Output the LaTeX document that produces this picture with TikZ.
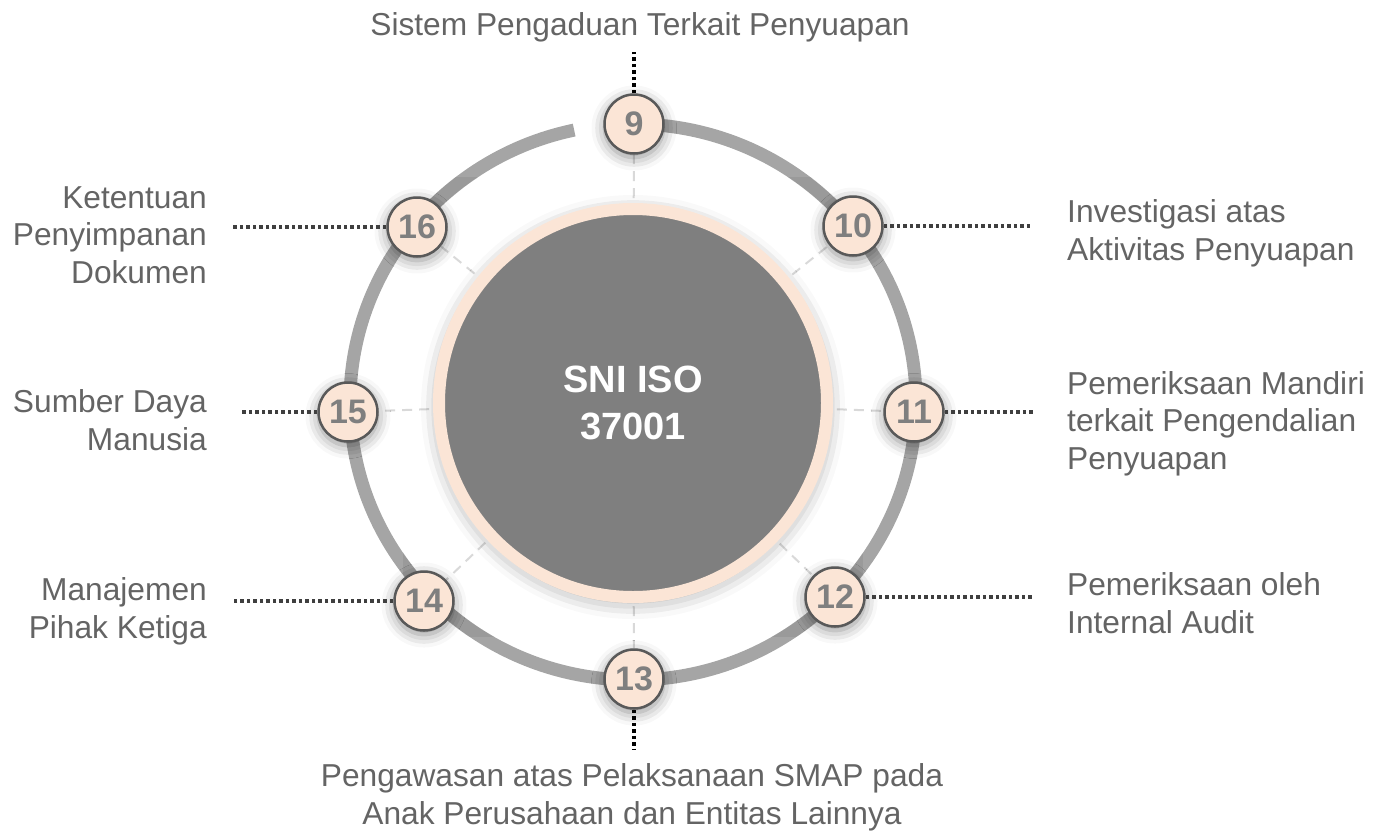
\documentclass[tikz,border=0pt]{standalone}
\usepackage{fontspec}
\setmainfont{Liberation Sans}
\usetikzlibrary{shadows.blur}

\definecolor{ringgray}{HTML}{A5A5A5}
\definecolor{peach}{HTML}{FBE5D6}
\definecolor{coregray}{HTML}{7F7F7F}
\definecolor{edgegray}{HTML}{595959}
\definecolor{labelgray}{HTML}{646464}
\definecolor{spokegray}{HTML}{D9D9D9}
\definecolor{leadgray}{HTML}{3F3F3F}

\pgfdeclarelayer{under}
\pgfsetlayers{under,main}

\begin{document}
\begin{tikzpicture}[x=1pt,y=-1pt,
  softshadow/.style={blur shadow={shadow xshift=0pt, shadow yshift=-4pt,
      shadow blur radius=13pt, shadow opacity=45}},
  stepnum/.style={circle, draw=edgegray, line width=2.5pt, fill=peach,
      minimum size=59pt, inner sep=0pt, text=coregray,
      font=\fontsize{34}{34}\selectfont\bfseries, softshadow},
  lbl/.style={text=labelgray, font=\fontsize{31.7}{37.5}\selectfont, inner sep=0pt},
  spoke/.style={spokegray, line width=2pt, dash pattern=on 10pt off 7pt},
  lead/.style={leadgray, line width=3.5pt, dash pattern=on 3.5pt off 3pt},
  leadv/.style={lead, black}]

\useasboundingbox (0,0) rectangle (1376,831);
\coordinate (c) at (633,402);

% soft halo and the open ring (gap just left of step 9)
\begin{pgfonlayer}{under}
  \foreach \w/\o in {56/0.025, 42/0.035, 28/0.05}
    \draw[black, opacity=\o, line width=\w pt]
      (c) ++(-90:283 and 278) arc[start angle=-90, end angle=258, x radius=283, y radius=278];
\end{pgfonlayer}
\draw[ringgray, line width=13pt]
  (c) ++(-90:283 and 278) arc[start angle=-90, end angle=258, x radius=283, y radius=278];

% core circle
\node[circle, minimum size=388pt, inner sep=0pt, fill=coregray, draw=peach,
      line width=12pt, text=white, align=center,
      font=\fontsize{38}{47}\selectfont\bfseries,
      blur shadow={shadow xshift=0pt, shadow yshift=-4pt, shadow blur radius=18pt, shadow opacity=40}]
  (core) at (633,403) {SNI ISO\\37001};

% numbered steps
\node[stepnum] (n9)  at (634,124) {9};
\node[stepnum] (n10) at (853,226) {10};
\node[stepnum] (n11) at (914,412) {11};
\node[stepnum] (n12) at (835,597) {12};
\node[stepnum] (n13) at (634,679) {13};
\node[stepnum] (n14) at (424,601) {14};
\node[stepnum] (n15) at (348,412) {15};
\node[stepnum] (n16) at (417,227) {16};

% dashed spokes from the centre, hidden under the core
\begin{pgfonlayer}{under}
  \foreach \k in {9,...,16}
    \draw[spoke] (c) -- (n\k);
\end{pgfonlayer}

% leader lines
\coordinate (e9)  at (634,52);
\coordinate (e13) at (634,750);
\coordinate (e10) at (1033,226);
\coordinate (e11) at (1033,412);
\coordinate (e12) at (1033,597);
\coordinate (e14) at (233,601);
\coordinate (e15) at (240,412);
\coordinate (e16) at (233,227);
\draw[leadv] (n9) -- (e9);
\draw[leadv] (n13) -- (e13);
\foreach \k in {10,11,12,14,15,16}
  \draw[lead] (n\k) -- (e\k);

% labels (base anchor = baseline of the last line)
\node[lbl, anchor=base] (t9) at (640,35) {Sistem Pengaduan Terkait Penyuapan};
\node[lbl, align=center, anchor=base] (t13) at (632,824)
  {Pengawasan atas Pelaksanaan SMAP pada\\Anak Perusahaan dan Entitas Lainnya};
\node[lbl, align=left, anchor=base west] (t10) at (1067,260)
  {Investigasi atas\\Aktivitas Penyuapan};
\node[lbl, align=left, anchor=base west] (t11) at (1067,469)
  {Pemeriksaan Mandiri\\terkait Pengendalian\\Penyuapan};
\node[lbl, align=left, anchor=base west] (t12) at (1067,633)
  {Pemeriksaan oleh\\Internal Audit};
\node[lbl, align=right, anchor=base east] (t14) at (207,638)
  {Manajemen\\Pihak Ketiga};
\node[lbl, align=right, anchor=base east] (t15) at (207,450)
  {Sumber Daya\\Manusia};
\node[lbl, align=right, anchor=base east] (t16) at (207,283)
  {Ketentuan\\Penyimpanan\\Dokumen};

\end{tikzpicture}
\end{document}
